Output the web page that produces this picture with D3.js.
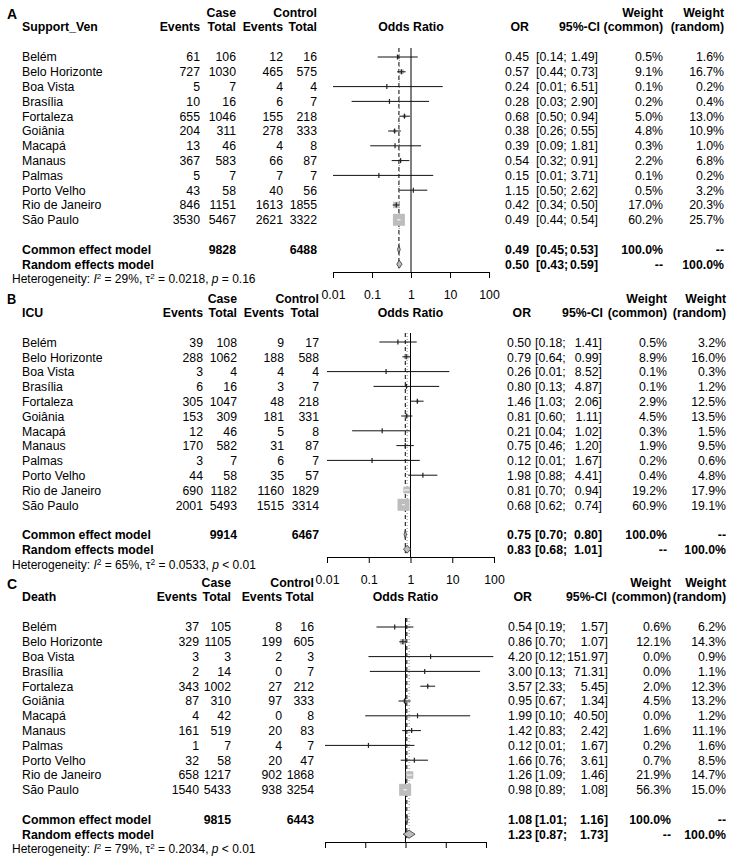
<!DOCTYPE html>
<html>
<head>
<meta charset="utf-8">
<script src="https://cdn.jsdelivr.net/npm/d3@7"></script>
<style>
  body { margin: 0; background: #fff; }
  svg { display: block; }
</style>
</head>
<body>
<svg id="chart" width="738" height="863"></svg>
<script>
// ---- data ----
var cities = ['Belém', 'Belo Horizonte', 'Boa Vista', 'Brasília', 'Fortaleza', 'Goiânia',
              'Macapá', 'Manaus', 'Palmas', 'Porto Velho', 'Rio de Janeiro', 'São Paulo'];
var axisTicks = [0.01, 0.1, 1, 10, 100];

// A: Support_Ven
var aCaseEvents = [61, 727, 5, 10, 655, 204, 13, 367, 5, 43, 846, 3530];
var aCaseTotal  = [106, 1030, 7, 16, 1046, 311, 46, 583, 7, 58, 1151, 5467];
var aCtrlEvents = [12, 465, 4, 6, 155, 278, 4, 66, 7, 40, 1613, 2621];
var aCtrlTotal  = [16, 575, 4, 7, 218, 333, 8, 87, 7, 56, 1855, 3322];
var aOR  = [0.45, 0.57, 0.24, 0.28, 0.68, 0.38, 0.39, 0.54, 0.15, 1.15, 0.42, 0.49];
var aLo  = [0.14, 0.44, 0.01, 0.03, 0.50, 0.26, 0.09, 0.32, 0.01, 0.50, 0.34, 0.44];
var aHi  = [1.49, 0.73, 6.51, 2.90, 0.94, 0.55, 1.81, 0.91, 3.71, 2.62, 0.50, 0.54];
var aWCommon = [0.5, 9.1, 0.1, 0.2, 5.0, 4.8, 0.3, 2.2, 0.1, 0.5, 17.0, 60.2];
var aWRandom = [1.6, 16.7, 0.2, 0.4, 13.0, 10.9, 1.0, 6.8, 0.2, 3.2, 20.3, 25.7];
var aTotals = [9828, 6488];
var aCommon = [0.49, 0.45, 0.53];
var aRandom = [0.50, 0.43, 0.59];
var aHet = ['29%', '0.0218', '= 0.16'];

// B: ICU
var bCaseEvents = [39, 288, 3, 6, 305, 153, 12, 170, 3, 44, 690, 2001];
var bCaseTotal  = [108, 1062, 4, 16, 1047, 309, 46, 582, 7, 58, 1182, 5493];
var bCtrlEvents = [9, 188, 4, 3, 48, 181, 5, 31, 6, 35, 1160, 1515];
var bCtrlTotal  = [17, 588, 4, 7, 218, 331, 8, 87, 7, 57, 1829, 3314];
var bOR  = [0.50, 0.79, 0.26, 0.80, 1.46, 0.81, 0.21, 0.75, 0.12, 1.98, 0.81, 0.68];
var bLo  = [0.18, 0.64, 0.01, 0.13, 1.03, 0.60, 0.04, 0.46, 0.01, 0.88, 0.70, 0.62];
var bHi  = [1.41, 0.99, 8.52, 4.87, 2.06, 1.11, 1.02, 1.20, 1.67, 4.41, 0.94, 0.74];
var bWCommon = [0.5, 8.9, 0.1, 0.1, 2.9, 4.5, 0.3, 1.9, 0.2, 0.4, 19.2, 60.9];
var bWRandom = [3.2, 16.0, 0.3, 1.2, 12.5, 13.5, 1.5, 9.5, 0.6, 4.8, 17.9, 19.1];
var bTotals = [9914, 6467];
var bCommon = [0.75, 0.70, 0.80];
var bRandom = [0.83, 0.68, 1.01];
var bHet = ['65%', '0.0533', '< 0.01'];

// C: Death
var cCaseEvents = [37, 329, 3, 2, 343, 87, 4, 161, 1, 32, 658, 1540];
var cCaseTotal  = [105, 1105, 3, 14, 1002, 310, 42, 519, 7, 58, 1217, 5433];
var cCtrlEvents = [8, 199, 2, 0, 27, 97, 0, 20, 4, 20, 902, 938];
var cCtrlTotal  = [16, 605, 3, 7, 212, 333, 8, 83, 7, 47, 1868, 3254];
var cOR  = [0.54, 0.86, 4.20, 3.00, 3.57, 0.95, 1.99, 1.42, 0.12, 1.66, 1.26, 0.98];
var cLo  = [0.19, 0.70, 0.12, 0.13, 2.33, 0.67, 0.10, 0.83, 0.01, 0.76, 1.09, 0.89];
var cHi  = [1.57, 1.07, 151.97, 71.31, 5.45, 1.34, 40.50, 2.42, 1.67, 3.61, 1.46, 1.08];
var cWCommon = [0.6, 12.1, 0.0, 0.0, 2.0, 4.5, 0.0, 1.6, 0.2, 0.7, 21.9, 56.3];
var cWRandom = [6.2, 14.3, 0.9, 1.1, 12.3, 13.2, 1.2, 11.1, 1.6, 8.5, 14.7, 15.0];
var cTotals = [9815, 6443];
var cCommon = [1.08, 1.01, 1.16];
var cRandom = [1.23, 0.87, 1.73];
var cHet = ['79%', '0.2034', '< 0.01'];

var panels = [
    {letter: 'A', title: 'Support_Ven', ce: aCaseEvents, ct: aCaseTotal, ke: aCtrlEvents, kt: aCtrlTotal,
     or: aOR, lo: aLo, hi: aHi, wc: aWCommon, wr: aWRandom, totals: aTotals, common: aCommon, random: aRandom, het: aHet},
    {letter: 'B', title: 'ICU', ce: bCaseEvents, ct: bCaseTotal, ke: bCtrlEvents, kt: bCtrlTotal,
     or: bOR, lo: bLo, hi: bHi, wc: bWCommon, wr: bWRandom, totals: bTotals, common: bCommon, random: bRandom, het: bHet},
    {letter: 'C', title: 'Death', ce: cCaseEvents, ct: cCaseTotal, ke: cCtrlEvents, kt: cCtrlTotal,
     or: cOR, lo: cLo, hi: cHi, wc: cWCommon, wr: cWRandom, totals: cTotals, common: cCommon, random: cRandom, het: cHet}
];

// ---- layout (each panel was pasted in with slightly different offsets) ----
// sx/size: panel B was squeezed sideways in the original figure
var layouts = [
    {dy: 0,   range: [333, 489], ev1: 200, ev1Head: 200, tot1: 236, ev2: 283, tot2: 317,
     orR: 529, ciL: 536, ciR: 598, ciHead: 600, wc: 663, wr: 724, tickLabels: true, size: 12.3, sx: 1},
    {dy: 285, range: [327, 494], ev1: 203, ev1Head: 203, tot1: 237, ev2: 284, tot2: 319,
     orR: 531, ciL: 535, ciR: 602, ciHead: 603, wc: 667, wr: 726, tickLabels: true, size: 13.5, sx: 0.91},
    {dy: 570, range: [325, 486], ev1: 199, ev1Head: 197, tot1: 231, ev2: 282, tot2: 314,
     orR: 532, ciL: 535, ciR: 608, ciHead: 607, wc: 671, wr: 726, tickLabels: false, size: 12.3, sx: 1}
];
var FONT = '"Liberation Sans", Arial, Helvetica, sans-serif';

var svg = d3.select('#chart').style('font-family', FONT);
var f2 = d3.format('.2f');
var f1 = d3.format('.1f');

function drawPanel(p, L) {
    var g = svg.append('g').attr('transform', 'translate(0,' + L.dy + ')')
        .style('font-size', L.size + 'px');
    var x = d3.scaleLog().domain([0.01, 100]).range(L.range);
    var rowY = function (i) { return 57 + i * 14.8; };
    var yCommon = rowY(11) + 29.6;
    var yRandom = yCommon + 14.8;
    var yAxis = 272;
    var mid = x(1);

    function txt(tx, ty, s, anchor, bold) {
        return g.append('text')
            .attr('transform', 'translate(' + tx + ',' + ty + ') scale(' + L.sx + ',1)')
            .attr('dy', '0.35em')
            .attr('text-anchor', anchor || 'start')
            .attr('fill', '#000')
            .style('font-weight', bold ? 'bold' : 'normal')
            .text(s);
    }
    function hline(x1, x2, y, col) {
        g.append('line').attr('x1', x1).attr('x2', x2).attr('y1', y).attr('y2', y)
            .attr('stroke', col).attr('stroke-width', 1);
    }

    // headers
    txt(7, 14, p.letter, 'start', true).style('font-size', '14px');
    txt(22, 27, p.title, 'start', true);
    txt(L.tot1, 13, 'Case', 'end', true);
    txt(L.tot2, 13, 'Control', 'end', true);
    txt(L.ev1Head, 27, 'Events', 'end', true);
    txt(L.tot1, 27, 'Total', 'end', true);
    txt(L.ev2, 27, 'Events', 'end', true);
    txt(L.tot2, 27, 'Total', 'end', true);
    txt(mid, 27, 'Odds Ratio', 'middle', true);
    txt(L.orR, 27, 'OR', 'end', true);
    txt(L.ciHead, 27, '95%-CI', 'end', true);
    txt(L.wc, 13, 'Weight', 'end', true);
    txt(L.wc, 27, '(common)', 'end', true);
    txt(L.wr, 13, 'Weight', 'end', true);
    txt(L.wr, 27, '(random)', 'end', true);

    // reference lines: no effect (solid), common (dashed), random (dotted)
    g.append('line').attr('x1', mid).attr('x2', mid).attr('y1', 48).attr('y2', yAxis)
        .attr('stroke', '#000').attr('stroke-width', 1);
    g.append('line').attr('x1', x(p.common[0])).attr('x2', x(p.common[0]))
        .attr('y1', 48).attr('y2', yRandom + 4)
        .attr('stroke', '#000').attr('stroke-width', 1).attr('stroke-dasharray', '4,3');
    g.append('line').attr('x1', x(p.random[0])).attr('x2', x(p.random[0]))
        .attr('y1', 48).attr('y2', yRandom + 4)
        .attr('stroke', '#888').attr('stroke-width', 1).attr('stroke-dasharray', '1,2');

    // study rows
    var maxW = d3.max(p.wc);
    cities.forEach(function (c, i) {
        var y = rowY(i);
        txt(22, y, c);
        txt(L.ev1, y, p.ce[i], 'end');
        txt(L.tot1, y, p.ct[i], 'end');
        txt(L.ev2, y, p.ke[i], 'end');
        txt(L.tot2, y, p.kt[i], 'end');
        txt(L.orR, y, f2(p.or[i]), 'end');
        txt(L.ciL, y, '[' + f2(p.lo[i]) + ';');
        txt(L.ciR, y, f2(p.hi[i]) + ']', 'end');
        txt(L.wc, y, f1(p.wc[i]) + '%', 'end');
        txt(L.wr, y, f1(p.wr[i]) + '%', 'end');

        var side = 12 * Math.sqrt(p.wc[i] / maxW);
        var cx = x(p.or[i]);
        var x1 = x(p.lo[i]), x2 = x(p.hi[i]);
        g.append('rect')
            .attr('x', cx - side / 2).attr('y', y - side / 2)
            .attr('width', side).attr('height', side)
            .attr('fill', '#bdbdbd');
        if (side >= 6.5) {
            // big boxes: CI line drawn white inside the box
            var b1 = cx - side / 2, b2 = cx + side / 2;
            if (x1 < b1) hline(x1, b1, y, '#111');
            if (x2 > b2) hline(b2, x2, y, '#111');
            hline(Math.max(x1, b1), Math.min(x2, b2), y, '#fff');
        } else {
            hline(x1, x2, y, '#111');
            g.append('line').attr('x1', cx).attr('x2', cx).attr('y1', y - 2.5).attr('y2', y + 2.5)
                .attr('stroke', '#222').attr('stroke-width', 1.2);
        }
    });

    // pooled rows
    [[yCommon, 'Common effect model', p.common, '100.0%', '--'],
     [yRandom, 'Random effects model', p.random, '--', '100.0%']].forEach(function (r, k) {
        var y = r[0], est = r[2];
        txt(22, y, r[1], 'start', true);
        if (k === 0) {
            txt(L.tot1, y, p.totals[0], 'end', true);
            txt(L.tot2, y, p.totals[1], 'end', true);
        }
        txt(L.orR, y, f2(est[0]), 'end', true);
        txt(L.ciL, y, '[' + f2(est[1]) + ';', 'start', true);
        txt(L.ciR, y, f2(est[2]) + ']', 'end', true);
        txt(L.wc, y, r[3], 'end', true);
        txt(L.wr, y, r[4], 'end', true);
        var h = 4;
        g.append('path')
            .attr('d', 'M' + x(est[1]) + ',' + y + 'L' + x(est[0]) + ',' + (y - h) +
                       'L' + x(est[2]) + ',' + y + 'L' + x(est[0]) + ',' + (y + h) + 'Z')
            .attr('fill', '#bdbdbd').attr('stroke', '#333').attr('stroke-width', 0.8);
    });

    // heterogeneity line
    var hs = L.size - 0.3;
    var sup = (hs - 4) + 'px';
    var het = txt(12, yRandom + 14.8, '', 'start', false).style('font-size', hs + 'px');
    het.append('tspan').text('Heterogeneity: ');
    het.append('tspan').style('font-style', 'italic').text('I');
    het.append('tspan').attr('dy', -4).style('font-size', sup).text('2');
    het.append('tspan').attr('dy', 4).text(' = ' + p.het[0] + ', \u03c4');
    het.append('tspan').attr('dy', -4).style('font-size', sup).text('2');
    het.append('tspan').attr('dy', 4).text(' = ' + p.het[1] + ', ');
    het.append('tspan').style('font-style', 'italic').text('p');
    het.append('tspan').text(' ' + p.het[2]);

    // axis
    var axis = d3.axisBottom(x).tickValues(axisTicks)
        .tickFormat(function (d) { return L.tickLabels ? String(d) : ''; })
        .tickSize(6).tickSizeOuter(0).tickPadding(12);
    var ag = g.append('g').attr('transform', 'translate(0,' + yAxis + ')').call(axis);
    ag.selectAll('text').style('font-family', FONT).style('font-size', '12.3px').attr('fill', '#000');
    ag.selectAll('line, path').attr('stroke', '#000');
}

panels.forEach(function (p, i) { drawPanel(p, layouts[i]); });
</script>
</body>
</html>
